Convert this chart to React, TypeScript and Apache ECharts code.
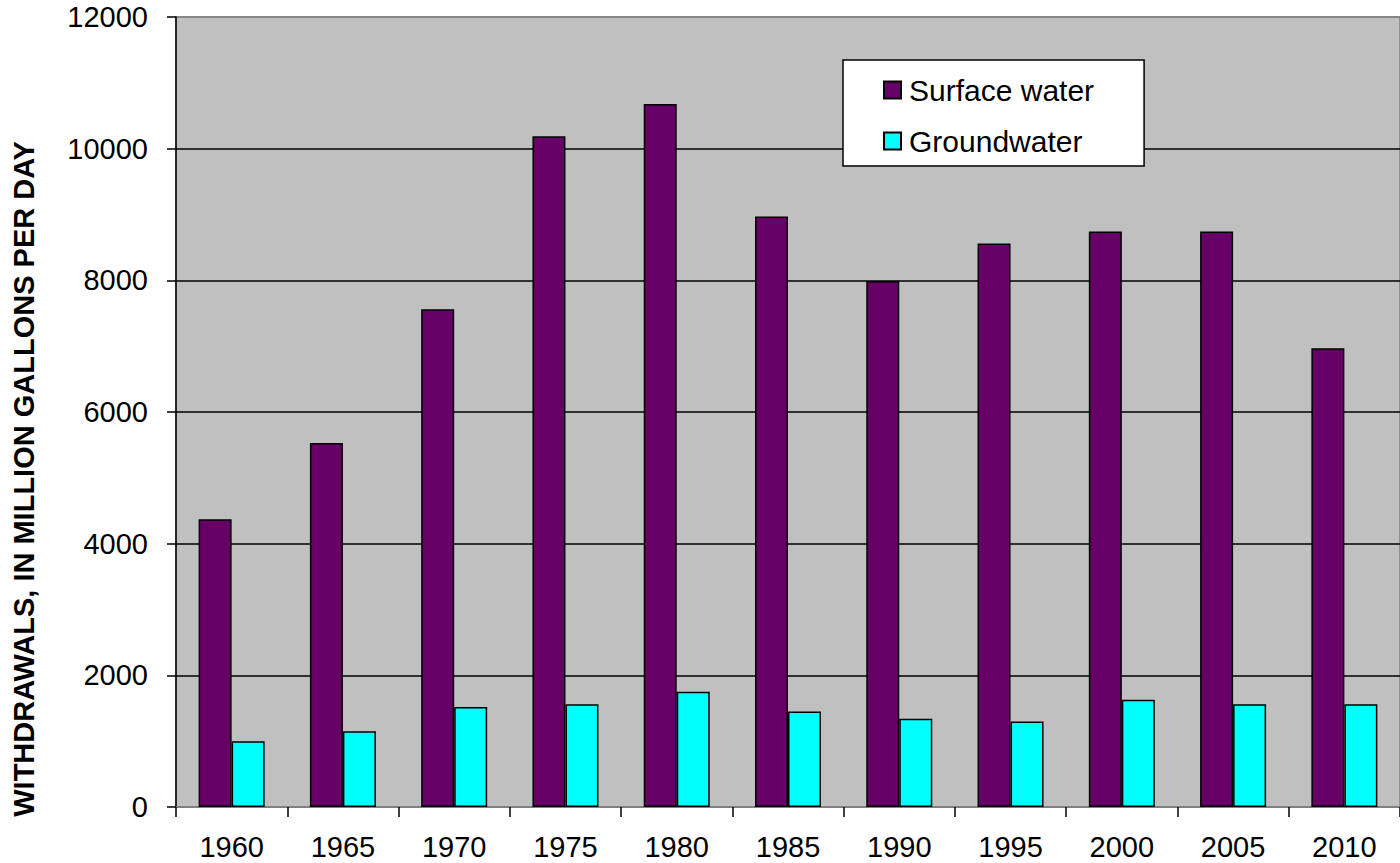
import React, { useEffect, useRef } from "react";
import * as echarts from "echarts";

const years = ["1960", "1965", "1970", "1975", "1980", "1985", "1990", "1995", "2000", "2005", "2010"];
const surfaceWater = [4370, 5530, 7560, 10190, 10680, 8970, 7990, 8560, 8740, 8740, 6970];
const groundwater = [1000, 1150, 1520, 1560, 1750, 1450, 1340, 1300, 1630, 1560, 1560];
const yTicks = { min: 0, max: 12000, interval: 2000 };
const yTitle = "WITHDRAWALS, IN MILLION GALLONS PER DAY";

const FONT = "'Liberation Sans', Arial, sans-serif";

export default function App() {
  const ref = useRef<HTMLDivElement>(null);
  useEffect(() => {
    if (!ref.current) return;
    const chart = echarts.init(ref.current, null, { renderer: "svg" });
    chart.setOption({
      animation: false,
      backgroundColor: "#ffffff",
      grid: {
        left: 176,
        top: 17,
        width: 1232,
        height: 790,
        show: true,
        backgroundColor: "#c0c0c0",
        borderColor: "#808080",
        borderWidth: 1.5,
      },
      legend: {
        orient: "vertical",
        left: 843,
        top: 60,
        padding: [15, 50, 10, 40],
        itemWidth: 17,
        itemHeight: 17,
        itemGap: 21,
        backgroundColor: "#ffffff",
        borderColor: "#000000",
        borderWidth: 1.5,
        borderRadius: 0,
        icon: "rect",
        textStyle: { fontSize: 30, fontFamily: FONT, color: "#000", lineHeight: 30, padding: [0, 0, 0, 3] },
        data: ["Surface water", "Groundwater"],
      },
      xAxis: {
        type: "category",
        data: years,
        axisLine: { lineStyle: { color: "#808080", width: 2 } },
        axisTick: { show: true, length: 10, lineStyle: { color: "#000", width: 1.5 } },
        axisLabel: { fontSize: 29, fontFamily: FONT, color: "#000", margin: 25 },
      },
      yAxis: {
        type: "value",
        min: yTicks.min,
        max: yTicks.max,
        interval: yTicks.interval,
        axisLine: { show: true, lineStyle: { color: "#000", width: 1.5 } },
        axisTick: { show: true, length: 9, lineStyle: { color: "#000", width: 1.5 } },
        axisLabel: {
          fontSize: 29,
          fontFamily: FONT,
          color: "#000",
          margin: 28,
          formatter: (v: number) => String(v),
        },
        splitLine: {
          show: true,
          lineStyle: { color: ["#000", "#000", "#000", "#000", "#000", "#000", "#808080"], width: 1.5 },
        },
      },
      graphic: [
        {
          type: "text",
          x: 24,
          y: 479,
          rotation: Math.PI / 2,
          style: {
            text: yTitle,
            fontSize: 29,
            fontWeight: "bold",
            fontFamily: FONT,
            fill: "#000",
            textAlign: "center",
            textVerticalAlign: "middle",
          },
        },
      ],
      series: [
        {
          name: "Surface water",
          type: "bar",
          data: surfaceWater,
          barWidth: 33,
          barGap: "0%",
          itemStyle: { color: "#660066", borderColor: "#000", borderWidth: 1.5 },
        },
        {
          name: "Groundwater",
          type: "bar",
          data: groundwater,
          barWidth: 33,
          barGap: "0%",
          itemStyle: { color: "#00ffff", borderColor: "#000", borderWidth: 1.5 },
        },
      ],
    });
    return () => chart.dispose();
  }, []);
  return <div ref={ref} style={{ position: "absolute", left: 0, top: 0, width: 1400, height: 863 }} />;
}
